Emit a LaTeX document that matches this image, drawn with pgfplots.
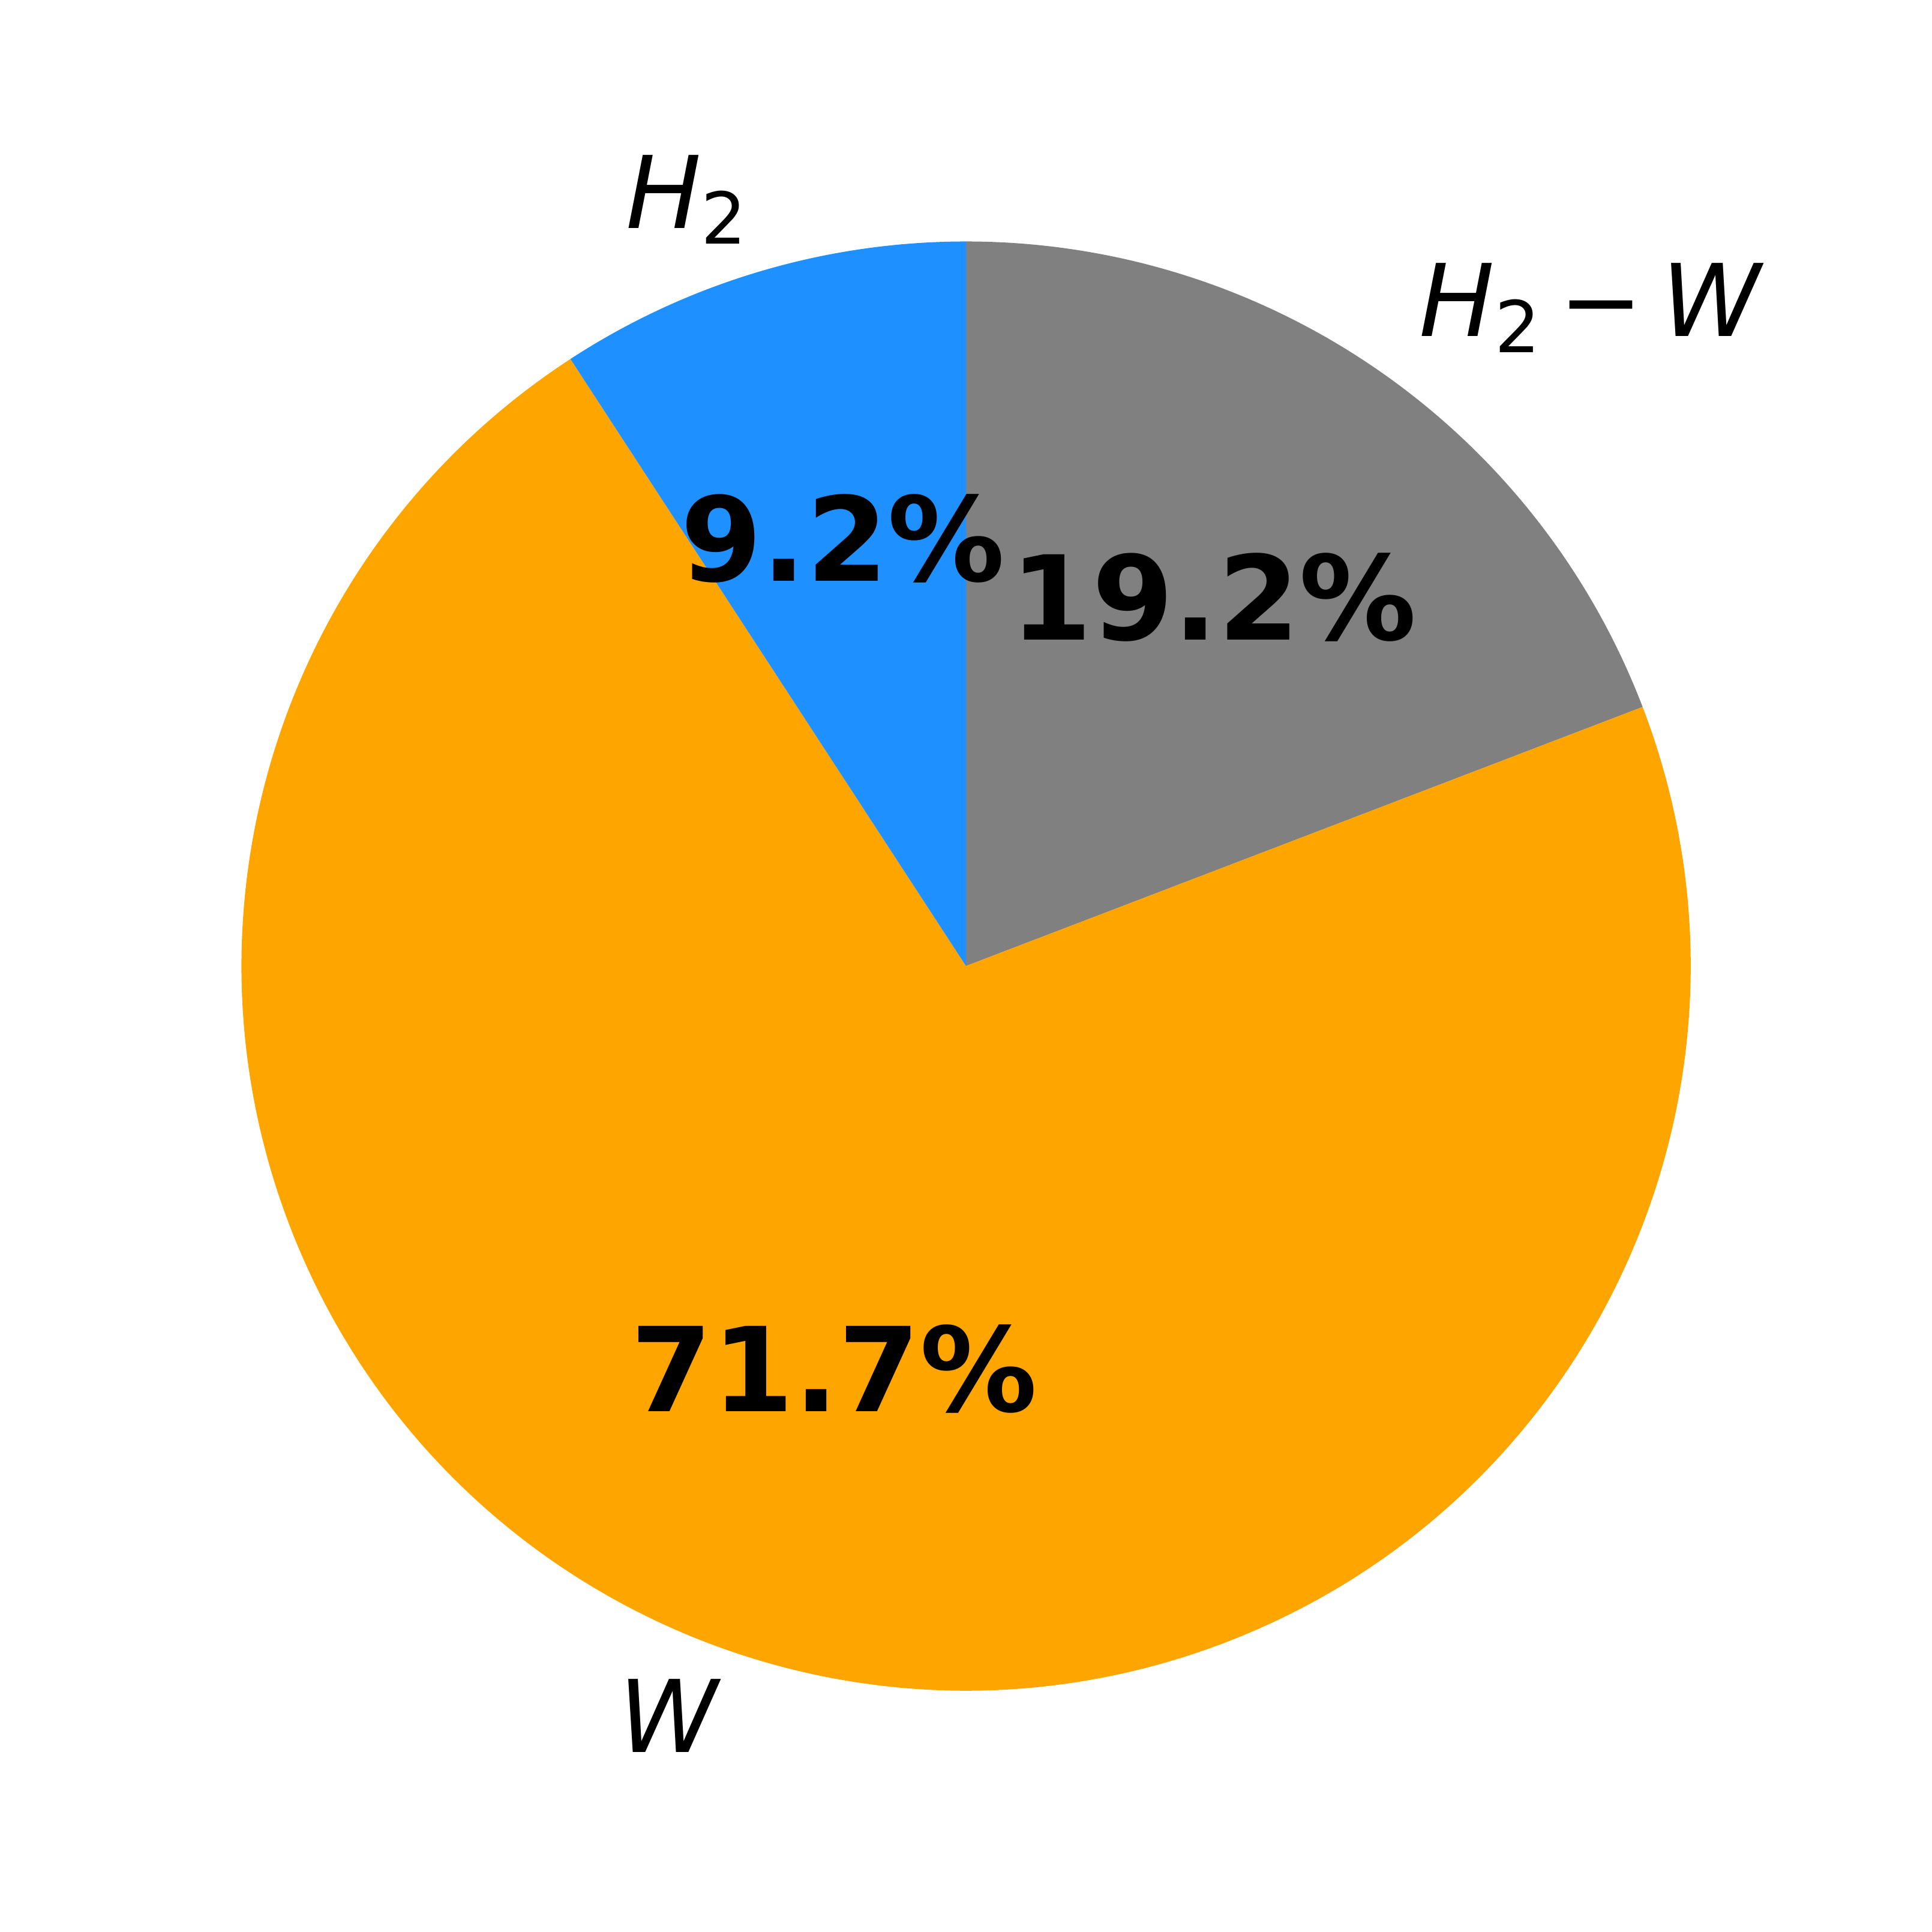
\documentclass[border=0pt]{standalone}
\usepackage{pgfplots}
\pgfplotsset{compat=1.18}
\usepackage{fontspec}
\setmainfont{DejaVu Sans}
\definecolor{cgray}{HTML}{808080}
\definecolor{corange}{HTML}{FFA500}
\definecolor{cblue}{HTML}{1E90FF}
% slice values (percent), clockwise from the top
\newcommand{\vA}{19.2}% H2 - W
\newcommand{\vB}{71.7}% W
\newcommand{\vC}{9.2}%  H2
\newcommand{\lbl}{\fontsize{40.7pt}{48pt}\selectfont}
\newcommand{\pct}{\fontsize{47.5pt}{56pt}\selectfont\bfseries}
\newcommand{\sub}[1]{\raisebox{-0.16em}{\fontsize{29pt}{30pt}\selectfont #1}}
\begin{document}
\begin{tikzpicture}
\pgfmathsetmacro{\tot}{\vA+\vB+\vC}
\pgfmathsetmacro{\aA}{90-\vA/\tot*360}
\pgfmathsetmacro{\aB}{\aA-\vB/\tot*360}
\begin{axis}[scale only axis, width=784pt, height=784pt,
  xmin=-784, xmax=784, ymin=-784, ymax=784, hide axis, clip=false]
\fill[cgray] (axis cs:0,0) -- (axis cs:0,588) arc[start angle=90, end angle=\aA, radius=294pt] -- cycle;
\fill[corange] (axis cs:0,0) -- ({588*cos(\aA)},{588*sin(\aA)}) arc[start angle=\aA, end angle=\aB, radius=294pt] -- cycle;
\fill[cblue] (axis cs:0,0) -- ({588*cos(\aB)},{588*sin(\aB)}) arc[start angle=\aB, end angle=-270, radius=294pt] -- cycle;
\node[anchor=east, inner sep=0pt, outer sep=0pt] at (axis cs:-178,622) {\lbl\itshape H\sub{\upshape 2}};
\node[anchor=west, inner sep=0pt, outer sep=0pt] at (axis cs:368,534) {\lbl\itshape H\sub{\upshape 2}\hspace{0.185em}\upshape−\hspace{0.185em}\itshape W};
\node[anchor=east, inner sep=0pt, outer sep=0pt] at (axis cs:-201,-608.5) {\lbl\itshape W};
\node[inner sep=0pt] at (axis cs:201,299) {\pct 19.2\%};
\node[inner sep=0pt] at (axis cs:-107,-327) {\pct 71.7\%};
\node[inner sep=0pt] at (axis cs:-100,347) {\pct 9.2\%};
\end{axis}
\path (0,0) rectangle (784pt,784pt);
\end{tikzpicture}
\end{document}
